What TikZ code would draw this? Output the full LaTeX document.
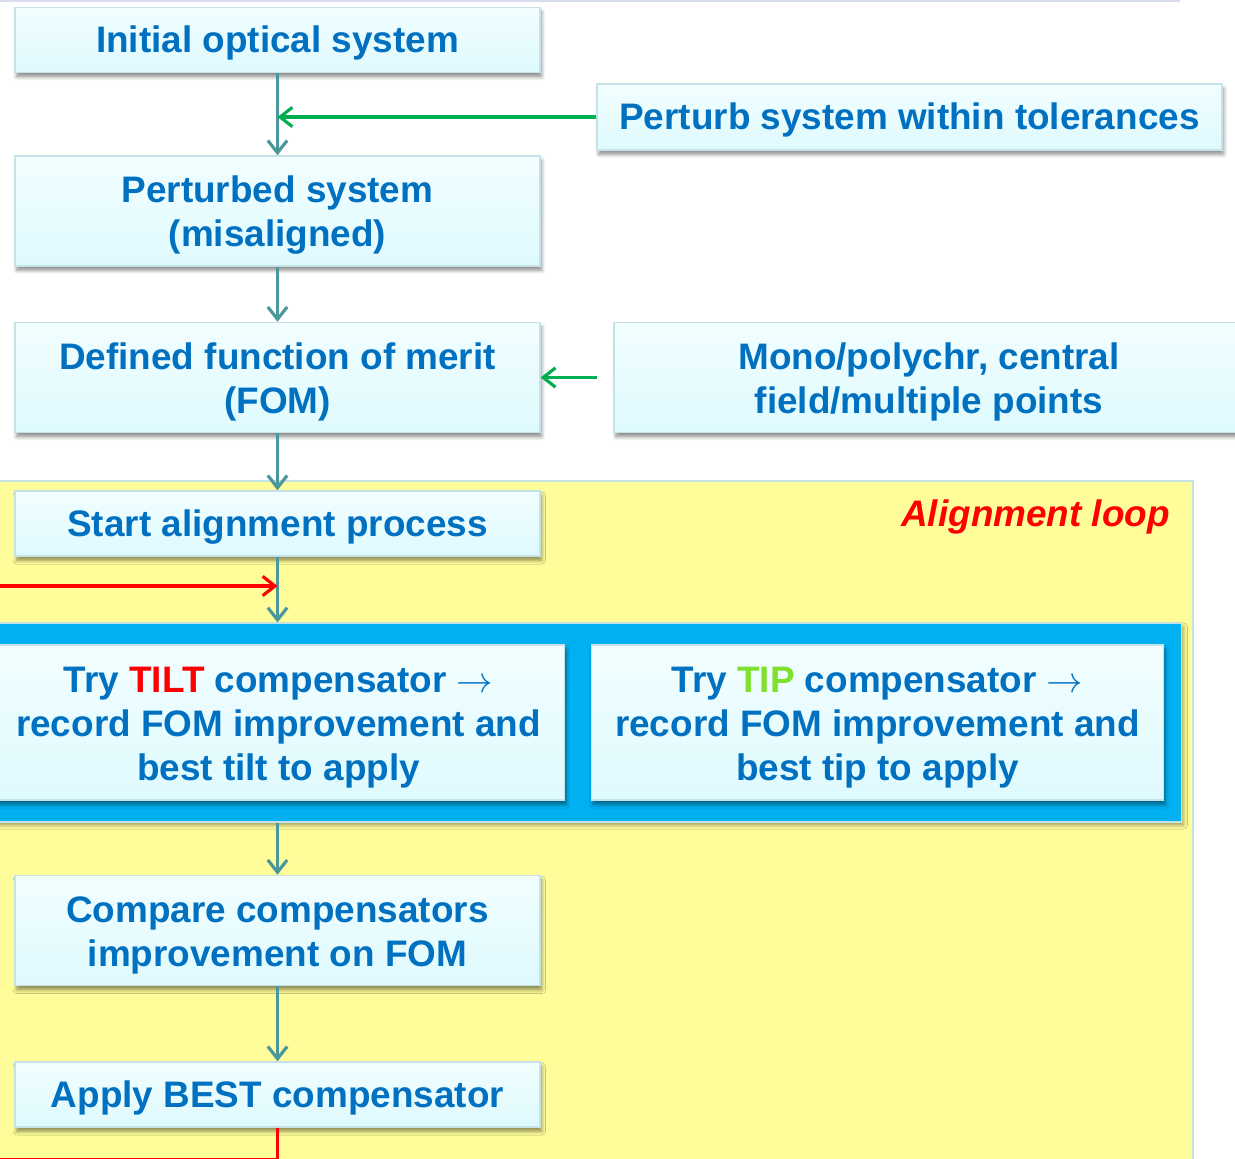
\documentclass[tikz,border=0pt]{standalone}
\usepackage{fontspec}
\setmainfont{Liberation Sans}
\usetikzlibrary{arrows.meta,shadows,shadows.blur}

\definecolor{stepblue}{RGB}{0,112,192}
\definecolor{flowteal}{RGB}{74,152,156}
\definecolor{inputgreen}{RGB}{0,176,80}
\definecolor{tipgreen}{RGB}{128,224,48}
\definecolor{loopyellow}{RGB}{255,253,153}
\definecolor{bandblue}{RGB}{0,176,240}
\definecolor{boxtop}{RGB}{242,254,255}
\definecolor{boxbottom}{RGB}{222,250,254}
\definecolor{boxedge}{RGB}{196,226,232}
\definecolor{rulegray}{RGB}{214,220,236}

% extra room above the first line of a box
\newcommand{\firstup}{\rule{0pt}{20pt}}

\begin{document}
\begin{tikzpicture}[x=0.02cm, y=-0.02cm,
    stepbox/.style={draw=boxedge, line width=0.8pt,
      top color=boxtop, bottom color=boxbottom,
      blur shadow={shadow xshift=1pt, shadow yshift=-2.5pt, shadow blur steps=6, shadow opacity=45},
      text=stepblue, font=\fontsize{21}{25}\selectfont\bfseries, align=center,
      execute at begin node={\rule{0pt}{19pt}},
      minimum width=10.5cm, minimum height=1.3cm, inner sep=0pt},
    twoline/.style={minimum height=2.2cm, execute at begin node={}},
    threeline/.style={minimum height=3.1cm, minimum width=11.44cm, execute at begin node={}},
    flow/.style={draw=flowteal, line width=2pt,
      -{Straight Barb[length=7pt,width=11pt,line width=1.8pt]}},
    feed/.style={draw=inputgreen, line width=2pt,
      -{Straight Barb[length=7pt,width=11pt,line width=1.8pt]}},
    back/.style={draw=red, line width=2pt,
      -{Straight Barb[length=7pt,width=11pt,line width=1.8pt]}}]

  \useasboundingbox (0,0) rectangle (1235,1159);

  % thin rule along the top edge
  \draw[rulegray, line width=0.8pt] (0,1) -- (1180,1);

  % alignment loop background
  \fill[loopyellow, draw=boxedge, line width=0.8pt] (-10,481) rectangle (1193,1180);
  \node[anchor=east, text=red, font=\fontsize{21}{25}\selectfont\bfseries\itshape]
    (looplabel) at (1176,517) {Alignment loop};

  % blue band holding the two compensator trials
  \node[fill=bandblue, draw=boxedge, line width=0.6pt, minimum width=23.8cm, minimum height=3.98cm,
    blur shadow={shadow xshift=1pt, shadow yshift=-2pt, shadow blur steps=5, shadow opacity=35},
    inner sep=0pt] (band) at (587,722.5) {};

  % main column of steps
  \node[stepbox] (init) at (277.5,40) {Initial optical system};
  \node[stepbox, twoline] (pert) at (277.5,211) {\firstup Perturbed system\\(misaligned)};
  \node[stepbox, twoline] (fom) at (277.5,377.5) {\firstup Defined function of merit\\(FOM)};
  \node[stepbox] (start) at (277.5,523.5) {Start alignment process};
  \node[stepbox, threeline] (tilt) at (278.5,722.5)
    {\firstup Try {\color{red}TILT} compensator $\rightarrow$\\record FOM improvement and\\best tilt to apply};
  \node[stepbox, threeline] (tip) at (877.5,722.5)
    {\firstup Try {\color{tipgreen}TIP} compensator $\rightarrow$\\record FOM improvement and\\best tip to apply};
  \node[stepbox, twoline] (compare) at (277.5,930.5) {\firstup Compare compensators\\improvement on FOM};
  \node[stepbox] (apply) at (277.5,1094.5) {Apply BEST compensator};

  % side inputs
  \node[stepbox, minimum width=12.5cm, minimum height=1.32cm] (perturb) at (909.5,117)
    {Perturb system within tolerances};
  \node[stepbox, twoline, minimum width=12.6cm] (mono) at (929,377.5)
    {\firstup Mono/polychr, central\\field/multiple points};

  % flow down the column
  \draw[flow] (init) -- (pert);
  \draw[flow] (pert) -- (fom);
  \draw[flow] (fom) -- (start);
  \draw[flow] (start) -- (start.south |- band.north);
  \draw[flow] (compare.north |- band.south) -- (compare);
  \draw[flow] (compare) -- (apply);

  % inputs joining from the right
  \coordinate (join) at (init.south |- perturb.west);
  \draw[feed] (perturb) -- (join);
  \coordinate (monoin) at (597,377.5);
  \draw[feed] (monoin) -- (fom);

  % loop back to the top of the trials
  \coordinate (loopin) at (-10,586);
  \draw[back] (loopin) -- (start.south |- loopin);
  \coordinate (loopout) at (-10,1159.5);
  \draw[red, line width=2pt] (apply.south) -- (apply.south |- loopout) -- (loopout);

\end{tikzpicture}
\end{document}
